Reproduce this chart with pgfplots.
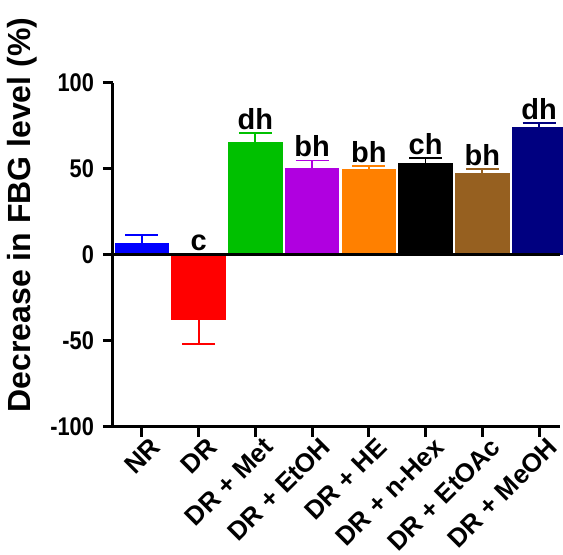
\documentclass[border=0pt]{standalone}
\usepackage{pgfplots}
\pgfplotsset{compat=1.18}
\usepackage{fontspec}
\setmainfont{Liberation Sans}
\newfontfamily\nfont[FakeStretch=0.85]{Liberation Sans}
\definecolor{cNR}{RGB}{0,0,255}
\definecolor{cDR}{RGB}{255,0,0}
\definecolor{cMet}{RGB}{0,192,0}
\definecolor{cEtOH}{RGB}{176,0,224}
\definecolor{cHE}{RGB}{255,128,0}
\definecolor{cHex}{RGB}{0,0,0}
\definecolor{cEtOAc}{RGB}{150,96,32}
\definecolor{cMeOH}{RGB}{0,0,128}
\begin{document}
\begin{tikzpicture}
\begin{axis}[
  name=ax,
  scale only axis,
  width=223.5pt, height=172pt,
  xmin=-0.51, xmax=7.37,
  ymin=-100, ymax=100,
  ytick={-100,-50,0,50,100},
  xtick={0,1,2,3,4,5,6,7},
  xticklabels={NR,DR,DR + Met,DR + EtOH,DR + HE,DR + n-Hex,DR + EtOAc,DR + MeOH},
  axis x line=bottom, axis y line=left,
  axis line style={-, line width=1.5pt},
  every tick/.style={black, line width=1.5pt},
  tick align=outside, major tick length=5pt,
  /pgf/number format/assume math mode=true,
  yticklabel style={font=\fontsize{12.8}{14}\nfont\bfseries, xshift=-1pt},
  xticklabel style={font=\fontsize{13}{14}\selectfont\bfseries, rotate=45, anchor=north east, inner sep=1pt, xshift=4pt, yshift=-1pt},
  ylabel={Decrease in FBG level (\%)},
  ylabel style={font=\fontsize{16}{18}\selectfont\bfseries, at={(ticklabel cs:0.616)}},
  ybar, bar width=0.96, bar shift=0pt,
  error bars/y dir=plus, error bars/y explicit,
  clip=false,
]
\addplot[fill=cNR, draw=none, error bars/error bar style={cNR, line width=0.9pt}, error bars/error mark options={cNR, rotate=90, mark size=8.25pt, line width=0.9pt}] coordinates {(0,7.2) +- (0,4.4)};
\addplot[fill=cDR, draw=none, error bars/y dir=minus, error bars/error bar style={cDR, line width=0.9pt}, error bars/error mark options={cDR, rotate=90, mark size=8.25pt, line width=0.9pt}] coordinates {(1,-37.8) +- (0,13.9)};
\addplot[fill=cMet, draw=none, error bars/error bar style={cMet, line width=0.9pt}, error bars/error mark options={cMet, rotate=90, mark size=8.25pt, line width=0.9pt}] coordinates {(2,65.5) +- (0,5.6)};
\addplot[fill=cEtOH, draw=none, error bars/error bar style={cEtOH, line width=0.9pt}, error bars/error mark options={cEtOH, rotate=90, mark size=8.25pt, line width=0.9pt}] coordinates {(3,50.8) +- (0,4.1)};
\addplot[fill=cHE, draw=none, error bars/error bar style={cHE, line width=0.9pt}, error bars/error mark options={cHE, rotate=90, mark size=8.25pt, line width=0.9pt}] coordinates {(4,49.8) +- (0,1.9)};
\addplot[fill=cHex, draw=none, error bars/error bar style={cHex, line width=0.9pt}, error bars/error mark options={cHex, rotate=90, mark size=8.25pt, line width=0.9pt}] coordinates {(5,53.3) +- (0,3.1)};
\addplot[fill=cEtOAc, draw=none, error bars/error bar style={cEtOAc, line width=0.9pt}, error bars/error mark options={cEtOAc, rotate=90, mark size=8.25pt, line width=0.9pt}] coordinates {(6,47.9) +- (0,2.1)};
\addplot[fill=cMeOH, draw=none, error bars/error bar style={cMeOH, line width=0.9pt}, error bars/error mark options={cMeOH, rotate=90, mark size=8.25pt, line width=0.9pt}] coordinates {(7,74.4) +- (0,2.2)};
\draw[line width=1.5pt] (axis cs:-0.51,0) -- (axis cs:7.37,0);
\begin{scope}[every node/.style={font=\fontsize{14.5}{16}\selectfont\bfseries, anchor=south, inner sep=1.5pt}]
\node at (axis cs:1,0.5) {c};
\node at (axis cs:2,71.1) {dh};
\node at (axis cs:3,54.9) {bh};
\node at (axis cs:4,51.7) {bh};
\node at (axis cs:5,56.4) {ch};
\node at (axis cs:6,50.0) {bh};
\node at (axis cs:7,76.6) {dh};
\end{scope}
\end{axis}
\pgfresetboundingbox
\path[use as bounding box] ([shift={(-56.5pt,-64pt)}]ax.south west) rectangle ([shift={(1.5pt,41.5pt)}]ax.north east);
\end{tikzpicture}
\end{document}
